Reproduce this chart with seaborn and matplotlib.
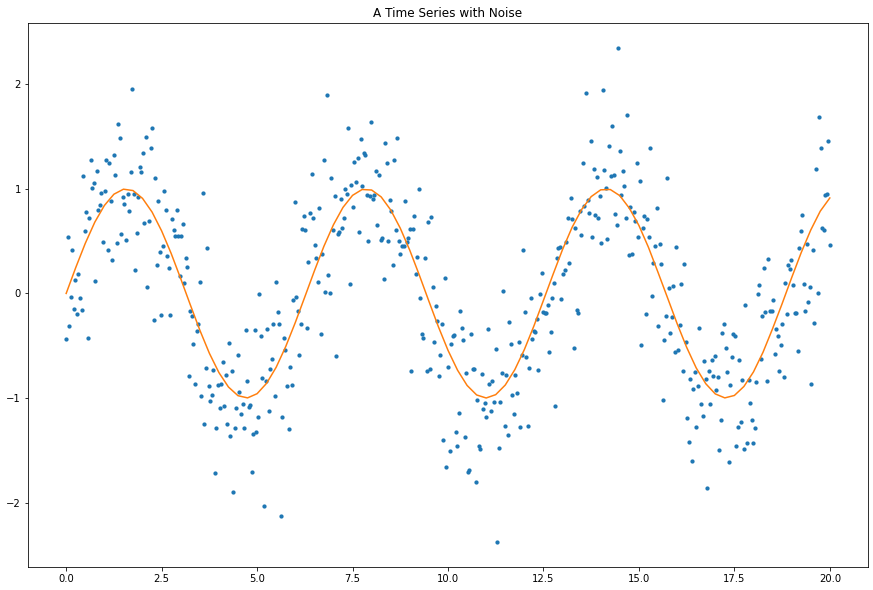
import numpy as np
import pandas as pd
from matplotlib import pyplot as plt
import seaborn as sns

# noisy observations, read left to right (x evenly spaced from 0 to 20)
noisy_y = [
    # 0 - 1.9
    -0.44, 0.54, -0.31, -0.03, 0.42, -0.15, 0.13, -0.20, 0.19, -0.04,
    -0.16, 1.12, 0.60, 0.78, -0.43, 0.72, 1.28, 1.01, 1.06, 0.12,
    1.17, 0.80, 0.85, 0.96, 0.49, 0.98, 1.28, 0.42, 1.25, 0.88,
    0.32, 1.32, 1.13, 0.48, 1.62, 1.49, 0.57, 0.92,
    # 1.5 - 3.2
    0.86, 0.51, 0.95, 0.79, 1.16, 1.96, 0.95, 0.22, 0.58, 0.92,
    1.21, 1.16, 1.34, 0.67, 1.50, 0.06, 0.69, 1.39, 1.58, -0.25,
    1.10, 0.27, 0.88, 0.40, -0.21, 0.45, 0.98, 0.80, 0.36, 0.24,
    -0.21, 0.71, 0.61, 0.55, 0.80, 0.55, 0.17, 0.55, 0.66, 0.10,
    0.34, 0.25,
    # 3.2 - 4.9
    -0.79, -0.17, -0.22, -0.48, -0.87, -0.36, -0.29, 0.11, -0.98, 0.96,
    -1.25, -0.71, 0.43, -0.89, -1.03, -0.97, -0.73, -1.72, -1.29, -0.88,
    -1.10, -0.87, -0.66, -1.08, -0.78, -1.25, -0.47, -1.36, -0.74, -1.90,
    -1.29, -1.10, -0.59, -0.94, -1.15, -1.06, -1.29, -0.35, -0.84, -1.09,
    -1.07, -1.71,
    # 4.9 - 6.6
    -1.34, -0.35, -1.33, -1.18, -0.01, -0.41, -0.81, -2.03, -0.84, -0.34,
    -1.12, -0.72, -0.63, -0.29, -0.98, 0.11, -0.18, -0.29, -2.13, -1.18,
    -0.43, -0.54, -0.89, -1.30, -0.70, -0.88, -0.06, 0.87, -0.03, -0.17,
    -0.59, -0.29, 0.62, 0.74, 0.61, -0.33, 0.30, 0.77, 1.14, 0.72,
    0.46, 0.34,
    # 6.6 - 8.3
    0.11, 0.82, -0.39, 0.38, 1.28, 0.01, 1.90, 0.18, 0.00, 1.10,
    0.61, 0.93, -0.60, 0.57, 0.59, 0.90, 0.63, 0.72, 1.00, 0.95,
    1.58, 0.09, 1.04, 0.83, 1.26, 1.07, 1.30, 0.59, 1.48, 1.03,
    1.34, 1.32, 0.94, 0.50, 0.93, 1.64, 0.90, 0.94, 1.17, 0.65,
    1.13, 0.51,
    # 8.3 - 10.0
    0.53, 0.14, 1.44, 1.25, 0.50, 0.89, 0.79, 0.27, 1.28, 0.61,
    1.49, 0.50, 0.38, 0.45, 0.45, 0.88, 0.49, 0.53, 0.62, -0.74,
    0.62, 0.74, 0.19, 0.35, 1.00, -0.04, -0.39, -0.43, 0.34, -0.74,
    0.68, -0.72, 0.73, 0.06, -0.46, -0.12, -0.26, -0.79, -0.59, -0.29,
    -1.40, 0.15,
    # 10.0 - 11.7
    -1.66, -0.70, -1.51, -0.48, -0.41, -0.40, -1.33, -1.46, -1.14, -0.17,
    -0.33, -0.45, -1.37, -0.76, -1.71, -1.69, -0.39, -0.72, -0.72, -1.80,
    -1.02, -1.46, -1.49, -0.77, -1.11, -1.05, -1.18, -0.34, -0.87, -1.12,
    -0.84, -1.04, -0.53, -2.38, -1.48, -1.04, -0.76, 0.02, -1.27, -0.78,
    -1.35, -0.27,
    # 11.7 - 13.4
    -0.48, -0.97, -1.15, -0.78, -0.95, -0.46, -1.28, -0.59, 0.42, -0.18,
    -0.61, -1.27, -0.71, -0.04, -0.44, -0.36, -0.37, -0.24, -0.73, -0.01,
    0.20, -0.18, -0.19, -0.19, -0.11, -0.56, -0.37, -0.04, 0.10, -1.08,
    0.34, 0.43, 0.44, -0.05, 0.19, 0.22, 0.49, 0.72, 0.29, 0.91,
    0.71, -0.52,
    # 13.4 - 15.1
    0.63, -0.16, -0.19, 0.79, 0.56, 1.25, 0.84, 1.92, 0.89, 0.77,
    1.46, 0.54, 1.19, 0.75, 1.11, 0.72, 0.93, 0.48, 1.95, 1.18,
    1.01, 0.52, 1.41, 1.12, 1.60, 1.13, 0.76, 0.65, 2.35, 1.36,
    0.94, 1.17, 1.03, 0.72, 1.71, 0.37, 0.83, 0.38, 0.78, 0.69,
    1.25, 0.54,
    # 15.1 - 16.8
    1.08, -0.49, 0.63, 0.74, -0.20, 0.71, 0.54, 1.39, -0.02, 0.29,
    0.45, 0.82, -0.31, 0.47, 0.28, -1.02, -0.45, -0.22, 1.10, 0.05,
    -0.38, -0.23, 0.07, -0.56, 0.44, -0.54, -0.30, 0.09, -0.74, 0.28,
    -0.46, -1.19, -1.42, -0.82, -1.60, -0.91, -0.75, -1.28, -0.89, -0.33,
    -1.06, -1.17,
    # 16.8 - 18.5
    -0.65, -0.82, -1.86, -0.74, -1.06, -0.64, -0.79, -0.60, -0.92, -0.80,
    -1.50, -1.21, -0.38, -0.29, -0.52, -0.75, -1.61, -0.88, -0.61, -0.39,
    -0.41, -1.46, -1.28, -0.64, -1.23, -0.83, -1.49, -0.11, -1.43, -0.83,
    -1.05, -1.21, -1.43, -1.29, -0.85, -0.01, 0.08, -0.63, -0.22, 0.24,
    -0.18, -0.84,
    # 18.5 - 20
    0.33, -0.17, -0.17, -0.06, -0.58, -0.34, -0.41, -0.74, -0.49, -0.29,
    -0.80, 0.10, -0.20, 0.27, 0.23, 0.32, 0.08, -0.19, -0.19, -0.55,
    0.43, 0.60, 0.75, 0.09, -0.17, 0.47, -0.08, 0.06, -0.87, 0.42,
    -0.28, 1.19, 0.00, 1.69, 1.39, 0.63, 0.61, 0.94, 0.95, 1.46,
    0.46,
]
noisy_x = np.linspace(0, 20, len(noisy_y))

# smooth curve, sampled every 0.25
curve_x = np.arange(0, 20.01, 0.25)
curve_y = [
    0.000, 0.247, 0.479, 0.682, 0.841, 0.949, 0.997, 0.984, 0.909, 0.778,
    0.598, 0.382, 0.141, -0.108, -0.351, -0.572, -0.757, -0.895, -0.978, -0.999,
    -0.959, -0.859, -0.706, -0.508, -0.279, -0.033, 0.215, 0.451, 0.657, 0.823,
    0.938, 0.994, 0.989, 0.923, 0.798, 0.624, 0.412, 0.174, -0.075, -0.320,
    -0.544, -0.734, -0.880, -0.971, -1.000, -0.968, -0.876, -0.729, -0.537, -0.311,
    -0.066, 0.181, 0.420, 0.632, 0.803, 0.926, 0.991, 0.994, 0.935, 0.815,
    0.650, 0.441, 0.202, -0.042, -0.288, -0.515, -0.712, -0.863, -0.961, -0.999,
    -0.976, -0.890, -0.751, -0.563, -0.338, -0.099, 0.150, 0.390, 0.606, 0.787,
    0.913,
]

pts = pd.DataFrame({'x': noisy_x, 'y': noisy_y})
curve = pd.DataFrame({'x': curve_x, 'y': curve_y})

fig = plt.figure(figsize=(873 / 72, 590 / 72), dpi=72)
ax = fig.add_axes([28 / 873, 23 / 590, 840 / 873, 544 / 590])

sns.scatterplot(data=pts, x='x', y='y', ax=ax, color='#1f77b4', s=18, linewidth=0)
sns.lineplot(data=curve, x='x', y='y', ax=ax, color='#ff7f0e', linewidth=1.5)

ax.set_title('A Time Series with Noise')
ax.set_xlabel('')
ax.set_ylabel('')
ax.set_xticks([0, 2.5, 5, 7.5, 10, 12.5, 15, 17.5, 20])
ax.set_yticks([-2, -1, 0, 1, 2])

fig.savefig('out.png', dpi=72)
